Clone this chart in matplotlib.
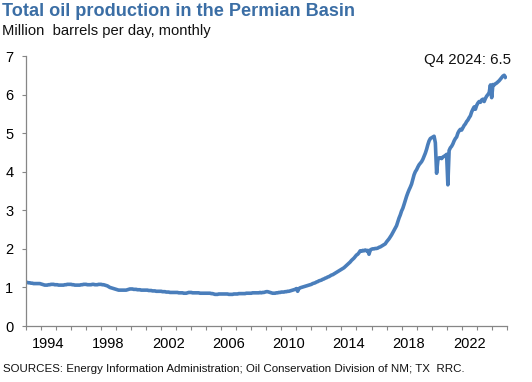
import matplotlib
matplotlib.use("Agg")
import matplotlib.pyplot as plt
import numpy as np

plt.rcParams['font.family'] = ['Liberation Sans', 'DejaVu Sans']

# Monthly production, million barrels per day, Jan 1993 - Dec 2024
start_year = 1993
production = {
    1993: [1.13, 1.13, 1.12, 1.12, 1.11, 1.11, 1.10, 1.10, 1.10, 1.10, 1.10, 1.10],
    1994: [1.09, 1.08, 1.07, 1.06, 1.06, 1.06, 1.07, 1.07, 1.08, 1.08, 1.08, 1.07],
    1995: [1.07, 1.07, 1.06, 1.06, 1.06, 1.06, 1.06, 1.07, 1.07, 1.08, 1.08, 1.08],
    1996: [1.08, 1.07, 1.07, 1.06, 1.06, 1.06, 1.06, 1.06, 1.07, 1.07, 1.08, 1.08],
    1997: [1.08, 1.07, 1.07, 1.07, 1.07, 1.08, 1.08, 1.07, 1.07, 1.07, 1.08, 1.08],
    1998: [1.08, 1.07, 1.07, 1.06, 1.05, 1.04, 1.02, 1.00, 0.99, 0.98, 0.97, 0.96],
    1999: [0.95, 0.94, 0.93, 0.93, 0.93, 0.93, 0.93, 0.93, 0.93, 0.94, 0.95, 0.96],
    2000: [0.96, 0.96, 0.95, 0.95, 0.95, 0.94, 0.94, 0.94, 0.93, 0.93, 0.93, 0.93],
    2001: [0.93, 0.93, 0.92, 0.92, 0.92, 0.91, 0.91, 0.91, 0.90, 0.90, 0.90, 0.90],
    2002: [0.90, 0.89, 0.89, 0.89, 0.88, 0.88, 0.88, 0.87, 0.87, 0.87, 0.87, 0.87],
    2003: [0.87, 0.87, 0.86, 0.86, 0.86, 0.86, 0.85, 0.85, 0.85, 0.86, 0.87, 0.87],
    2004: [0.87, 0.86, 0.86, 0.86, 0.86, 0.86, 0.86, 0.85, 0.85, 0.85, 0.85, 0.85],
    2005: [0.85, 0.85, 0.85, 0.85, 0.84, 0.84, 0.83, 0.82, 0.82, 0.82, 0.83, 0.83],
    2006: [0.83, 0.83, 0.83, 0.83, 0.83, 0.83, 0.82, 0.82, 0.82, 0.82, 0.83, 0.83],
    2007: [0.83, 0.83, 0.84, 0.84, 0.84, 0.84, 0.84, 0.84, 0.85, 0.85, 0.85, 0.85],
    2008: [0.85, 0.86, 0.86, 0.86, 0.86, 0.86, 0.86, 0.87, 0.86, 0.87, 0.87, 0.88],
    2009: [0.89, 0.89, 0.88, 0.87, 0.86, 0.85, 0.85, 0.85, 0.86, 0.86, 0.87, 0.87],
    2010: [0.88, 0.88, 0.88, 0.89, 0.89, 0.90, 0.90, 0.91, 0.92, 0.93, 0.94, 0.95],
    2011: [0.97, 0.90, 0.97, 0.99, 1.00, 1.01, 1.02, 1.03, 1.04, 1.05, 1.06, 1.07],
    2012: [1.08, 1.10, 1.11, 1.12, 1.14, 1.15, 1.17, 1.18, 1.19, 1.21, 1.22, 1.24],
    2013: [1.25, 1.27, 1.28, 1.30, 1.32, 1.33, 1.35, 1.37, 1.39, 1.41, 1.43, 1.45],
    2014: [1.47, 1.49, 1.51, 1.54, 1.57, 1.60, 1.63, 1.66, 1.70, 1.73, 1.76, 1.80],
    2015: [1.84, 1.86, 1.90, 1.95, 1.94, 1.96, 1.95, 1.97, 1.95, 1.96, 1.86, 1.97],
    2016: [1.99, 2.00, 2.00, 2.01, 2.01, 2.02, 2.04, 2.05, 2.07, 2.09, 2.11, 2.13],
    2017: [2.18, 2.22, 2.26, 2.31, 2.36, 2.42, 2.48, 2.54, 2.60, 2.70, 2.80, 2.88],
    2018: [2.98, 3.05, 3.15, 3.26, 3.36, 3.45, 3.53, 3.60, 3.68, 3.80, 3.92, 4.00],
    2019: [4.05, 4.12, 4.18, 4.22, 4.26, 4.32, 4.40, 4.48, 4.58, 4.70, 4.80, 4.86],
    2020: [4.88, 4.90, 4.92, 4.75, 3.96, 4.30, 4.36, 4.36, 4.34, 4.38, 4.40, 4.42],
    2021: [4.45, 3.66, 4.55, 4.62, 4.66, 4.72, 4.80, 4.86, 4.90, 5.00, 5.06, 5.10],
    2022: [5.08, 5.14, 5.20, 5.24, 5.30, 5.34, 5.40, 5.45, 5.55, 5.62, 5.68, 5.62],
    2023: [5.72, 5.78, 5.82, 5.80, 5.86, 5.88, 5.82, 5.90, 5.96, 6.00, 6.05, 6.25],
    2024: [5.92, 6.26, 6.25, 6.28, 6.30, 6.33, 6.36, 6.40, 6.44, 6.48, 6.50, 6.45],
}
year_labels = [1994, 1998, 2002, 2006, 2010, 2014, 2018, 2022]
y_ticks = [0, 1, 2, 3, 4, 5, 6, 7]

title = "Total oil production in the Permian Basin"
subtitle = "Million  barrels per day, monthly"
source = "SOURCES: Energy Information Administration; Oil Conservation Division of NM; TX  RRC."
annotation = "Q4 2024: 6.5"

years = sorted(production)
values = np.concatenate([production[y] for y in years])
xs = np.concatenate([[y + m / 12.0 for m in range(12)] for y in years])

W, H = 532, 382
fig = plt.figure(figsize=(W / 100, H / 100), dpi=100)
ax = fig.add_axes([26 / W, (H - 326) / H, (506.7 - 26) / W, (326 - 56) / H])

line_color = "#4a7ebb"
grey = "#868686"
ax.plot(xs, values, color=line_color, lw=2.6, solid_joinstyle="round")

ax.set_xlim(start_year, 2025)
ax.set_ylim(0, 7)
ax.set_yticks(y_ticks)
ax.set_yticklabels([str(v) for v in y_ticks], fontsize=10.5)
ax.set_xticks([y + 0.5 for y in year_labels])
ax.set_xticklabels([str(y) for y in year_labels], fontsize=10.5)
ax.set_xticks(np.arange(start_year, 2026), minor=True)
ax.tick_params(axis="x", which="major", length=0, pad=8)
ax.tick_params(axis="x", which="minor", length=3, color=grey, width=0.8)
ax.tick_params(axis="y", length=3, color=grey, width=0.8, pad=6)

for s in ["top", "right"]:
    ax.spines[s].set_visible(False)
for s in ["left", "bottom"]:
    ax.spines[s].set_color(grey)
    ax.spines[s].set_linewidth(0.9)

fig.text(2 / W, 1 - 12 / H, title, fontsize=13.1, fontweight="bold",
         color="#3b6ea5", ha="left", va="center")
fig.text(2 / W, 1 - 31 / H, subtitle, fontsize=10.6, color="#111111",
         ha="left", va="center")
fig.text(3 / W, 1 - 369 / H, source, fontsize=8.25, color="#111111",
         ha="left", va="center")
fig.text(511 / W, 1 - 60 / H, annotation, fontsize=10.8, color="#111111",
         ha="right", va="center")

fig.savefig("out.png", dpi=100)
